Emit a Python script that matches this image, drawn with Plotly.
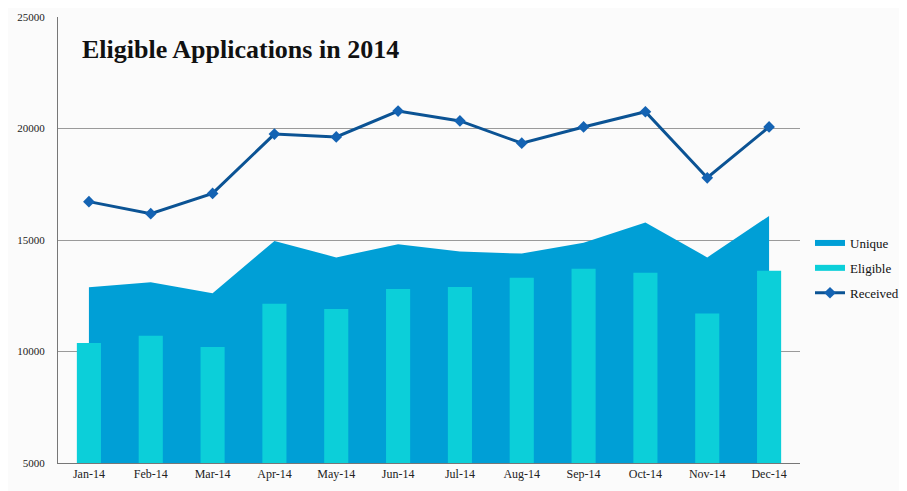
import plotly.graph_objects as go

months = ["Jan-14", "Feb-14", "Mar-14", "Apr-14", "May-14", "Jun-14",
          "Jul-14", "Aug-14", "Sep-14", "Oct-14", "Nov-14", "Dec-14"]
unique = [12880, 13100, 12610, 14960, 14220, 14810, 14480, 14390, 14880, 15790, 14220, 16080]
eligible = [10380, 10710, 10200, 12140, 11910, 12800, 12890, 13310, 13710, 13530, 11700, 13620]
received = [16720, 16180, 17090, 19750, 19620, 20780, 20340, 19340, 20070, 20750, 17790, 20070]
y_ticks = [5000, 10000, 15000, 20000, 25000]
y_tick_labels = ["5000", "10000", "15000", "20000", "25000"]

font_family = "Liberation Serif, DejaVu Serif, serif"
unique_color = "#009fd6"
eligible_color = "#0ccfd9"

# the page body adds an 8px offset; figure is sized to fill the rest
W, H = 899, 483
L, R, T, B = 50, 107, 9, 28
plot_w = W - L - R
plot_h = H - T - B

fig = go.Figure()
fig.add_trace(go.Scatter(
    x=months, y=unique, name="Unique", mode="none", legendgroup="a",
    fill="tozeroy", fillcolor=unique_color, yaxis="y",
))
fig.add_trace(go.Bar(
    x=months, y=eligible, name="Eligible", marker_color=eligible_color,
    legendgroup="b", showlegend=False,
    marker_line_width=0, width=0.39, yaxis="y2",
))
# legend-only entry so the Eligible key is a wide swatch like Unique
fig.add_trace(go.Scatter(
    x=[None], y=[None], name="Eligible", mode="none", legendgroup="b",
    fill="tozeroy", fillcolor=eligible_color, yaxis="y2",
))
fig.add_trace(go.Scatter(
    x=months, y=received, name="Received", mode="lines+markers", legendgroup="c",
    line=dict(color="#0b5394", width=3),
    marker=dict(symbol="diamond", size=9, color="#1463b3"),
    yaxis="y2",
))

fig.update_layout(
    width=W, height=H,
    margin=dict(l=L, r=R, t=T, b=B, autoexpand=False),
    paper_bgcolor="#fbfbfb", plot_bgcolor="#fbfbfb",
    font=dict(family=font_family, size=12, color="#222"),
    showlegend=True,
    legend=dict(x=(802 - L) / plot_w, y=1 - (260 - T) / plot_h,
                xanchor="left", yanchor="middle", traceorder="grouped",
                font=dict(size=13, color="#111"), bgcolor="rgba(0,0,0,0)",
                tracegroupgap=5),
    xaxis=dict(range=[-0.5, 11.5], showgrid=False, showline=True,
               linecolor="#777", linewidth=1, ticks="", tickfont=dict(size=12),
               automargin=False),
    yaxis=dict(range=[5000, 25000], tickvals=y_ticks, ticktext=y_tick_labels,
               showgrid=True, gridcolor="#9a9a9a", gridwidth=1, showline=True,
               linecolor="#777", zeroline=False, ticks="", tickfont=dict(size=11),
               ticklabelstandoff=10, automargin=False),
    yaxis2=dict(range=[5000, 25000], overlaying="y", showgrid=False,
                showticklabels=False, zeroline=False, showline=False),
    annotations=[dict(text="<b>Eligible Applications in 2014</b>",
                      x=(72 - L) / plot_w, y=1 - (42 - T) / plot_h,
                      xref="paper", yref="paper", showarrow=False,
                      xanchor="left", yanchor="middle",
                      font=dict(size=26, color="#111"))],
)

fig.write_html("out.html")
